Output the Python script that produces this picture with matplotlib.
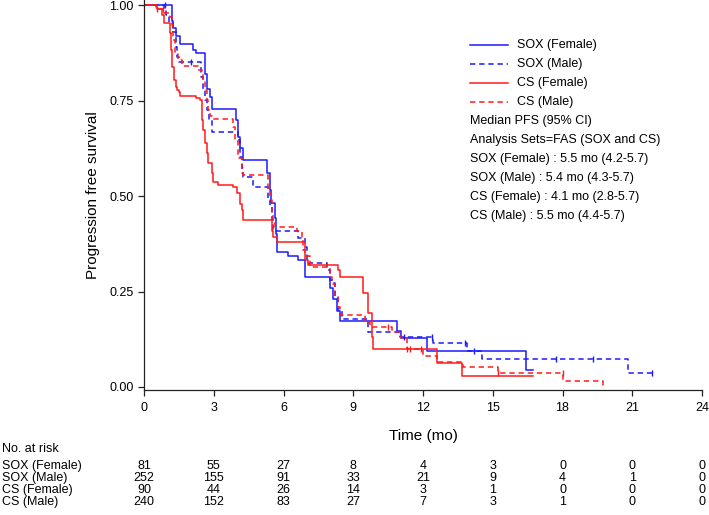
import matplotlib
matplotlib.use("Agg")
import matplotlib.pyplot as plt
import matplotlib.transforms as mtransforms
import numpy as np

plt.rcParams["font.family"] = ["Liberation Sans", "DejaVu Sans"]

# Kaplan-Meier steps: time (mo) and survival after each step
sox_f_t = [0, 1.19, 1.26, 1.36, 1.53, 2.12, 2.22, 2.62, 2.72, 2.85, 2.93, 3.96, 4.06, 4.13, 4.27,
           5.30, 5.40, 5.48, 5.63, 5.67, 5.71, 6.21, 6.64, 6.92, 8.00, 8.14, 8.29, 8.43, 10.87,
           11.05, 12.16, 16.42, 16.75]
sox_f_s = [1.0, 0.96, 0.94, 0.92, 0.899, 0.883, 0.875, 0.82, 0.78, 0.761, 0.728, 0.70, 0.656, 0.627, 0.595,
           0.56, 0.516, 0.482, 0.443, 0.40, 0.355, 0.343, 0.333, 0.289, 0.26, 0.23, 0.20, 0.173, 0.147,
           0.128, 0.093, 0.045, 0.045]

sox_m_t = [0, 0.86, 0.95, 1.08, 1.26, 1.36, 1.43, 1.50, 2.44, 2.55, 2.62, 2.72, 2.80, 2.91, 3.84,
           4.06, 4.13, 4.20, 4.27, 4.70, 5.35, 5.42, 5.49, 5.56, 6.64, 6.92, 7.00, 7.86, 8.00,
           8.07, 8.21, 8.36, 8.50, 9.65, 11.00, 12.44, 13.88, 14.52, 20.83, 21.84]
sox_m_s = [1.0, 0.99, 0.975, 0.954, 0.931, 0.89, 0.866, 0.851, 0.813, 0.778, 0.752, 0.726, 0.70, 0.668, 0.668,
           0.647, 0.604, 0.56, 0.551, 0.525, 0.49, 0.473, 0.438, 0.41, 0.39, 0.368, 0.324, 0.307, 0.28,
           0.273, 0.237, 0.202, 0.177, 0.145, 0.132, 0.115, 0.093, 0.072, 0.036, 0.036]

cs_f_t = [0, 0.55, 0.79, 0.86, 1.12, 1.15, 1.22, 1.29, 1.36, 1.43, 1.50, 1.55, 2.22, 2.41, 2.48,
          2.55, 2.62, 2.69, 2.77, 2.91, 2.98, 3.20, 3.84, 3.99, 4.13, 4.20, 4.27, 5.49, 5.56, 5.71,
          6.92, 7.07, 8.36, 8.43, 9.43, 9.65, 9.79, 9.86, 12.59, 13.66, 16.75]
cs_f_s = [1.0, 0.99, 0.975, 0.954, 0.927, 0.883, 0.84, 0.805, 0.787, 0.778, 0.774, 0.764, 0.757, 0.752, 0.70,
          0.674, 0.639, 0.613, 0.586, 0.56, 0.538, 0.529, 0.525, 0.508, 0.48, 0.464, 0.438, 0.41, 0.394, 0.379,
          0.333, 0.32, 0.307, 0.289, 0.246, 0.193, 0.132, 0.099, 0.064, 0.030, 0.030]

cs_m_t = [0, 0.50, 0.86, 1.12, 1.19, 1.26, 1.33, 1.48, 1.62, 2.34, 2.48, 2.55, 2.62, 2.70, 2.77,
          2.84, 2.91, 3.84, 3.92, 4.06, 4.20, 4.27, 5.35, 5.42, 5.49, 5.56, 5.63, 6.57, 6.78, 6.85,
          6.92, 7.14, 8.00, 8.07, 8.21, 8.36, 8.43, 9.50, 9.72, 10.65, 11.05, 11.30, 12.00, 12.59,
          13.73, 15.24, 18.04, 19.76]
cs_m_s = [1.0, 0.99, 0.98, 0.97, 0.949, 0.91, 0.875, 0.857, 0.841, 0.831, 0.826, 0.805, 0.778, 0.752, 0.726,
          0.709, 0.703, 0.682, 0.645, 0.60, 0.575, 0.556, 0.52, 0.49, 0.456, 0.429, 0.42, 0.41, 0.394, 0.359,
          0.343, 0.315, 0.287, 0.27, 0.24, 0.21, 0.189, 0.17, 0.158, 0.145, 0.128, 0.10, 0.081, 0.066,
          0.051, 0.036, 0.016, 0.0]

# censoring ticks (mo)
sox_f_cens = [0.9, 14.2]
sox_m_cens = [2.0, 11.2, 12.4, 13.8, 17.7, 19.3, 21.84]
cs_f_cens = [0.55, 11.3, 11.45]
cs_m_cens = [0.8, 10.5, 11.9, 15.24, 18.0]

groups = ["SOX (Female)", "SOX (Male)", "CS (Female)", "CS (Male)"]
medians = ["SOX (Female) : 5.5 mo (4.2-5.7)", "SOX (Male) : 5.4 mo (4.3-5.7)",
           "CS (Female) : 4.1 mo (2.8-5.7)", "CS (Male) : 5.5 mo (4.4-5.7)"]

# number at risk table
risk_times = [0, 3, 6, 9, 12, 15, 18, 21, 24]
sox_f_risk = [81, 55, 27, 8, 4, 3, 0, 0, 0]
sox_m_risk = [252, 155, 91, 33, 21, 9, 4, 1, 0]
cs_f_risk = [90, 44, 26, 14, 3, 1, 0, 0, 0]
cs_m_risk = [240, 152, 83, 27, 7, 3, 1, 0, 0]

blue = "#1a1aff"
red = "#ff1a1a"
dash = (0, (3.5, 2.5))
curves = [(sox_f_t, sox_f_s, sox_f_cens, blue, "-"), (sox_m_t, sox_m_s, sox_m_cens, blue, dash),
          (cs_f_t, cs_f_s, cs_f_cens, red, "-"), (cs_m_t, cs_m_s, cs_m_cens, red, dash)]

W, H = 709, 515
fig = plt.figure(figsize=(W / 100, H / 100), dpi=100)
ax = fig.add_axes([144 / W, (H - 390) / H, 558 / W, 390 / H])

for t, s, cens, c, ls in curves:
    ax.step(t, s, where="post", color=c, linestyle=ls, linewidth=1.1)
    idx = np.searchsorted(t, cens, side="right") - 1
    ax.plot(cens, np.array(s)[idx], linestyle="none", marker="|", markersize=5,
            markeredgewidth=1.0, color=c)

ax.set_xlim(0, 24)
ax.set_ylim(-0.008, 1.0144)
ax.set_xticks(risk_times)
ax.set_yticks([0, 0.25, 0.5, 0.75, 1.0])
ax.set_yticklabels(["0.00", "0.25", "0.50", "0.75", "1.00"])
for side in ["top", "right"]:
    ax.spines[side].set_visible(False)
for side in ["left", "bottom"]:
    ax.spines[side].set_linewidth(0.9)
    ax.spines[side].set_color("#222222")
ax.tick_params(labelsize=9, length=4, width=0.9, color="#222222")
ax.tick_params(axis="x", pad=4.5)

ax.set_ylabel("Progression free survival", fontsize=11)
ax.yaxis.set_label_coords(-0.078, 0.5)
fig.text(423 / W, 1 - 436 / H, "Time (mo)", fontsize=11, ha="center", va="center")

# legend drawn as lines + text in axes coordinates
lx0, lx1, tx = 0.584, 0.652, 0.668
ly0, dy = 0.885, 0.0487
for i, (t, s, cens, c, ls) in enumerate(curves):
    y = ly0 - i * dy
    ax.plot([lx0, lx1], [y, y], transform=ax.transAxes, color=c, linestyle=ls, linewidth=1.1)
    ax.text(tx, y, groups[i], transform=ax.transAxes, fontsize=9, va="center")
extra = ["Median PFS (95% CI)", "Analysis Sets=FAS (SOX and CS)"] + medians
for j, line in enumerate(extra):
    y = ly0 - (4 + j) * dy
    ax.text(lx0, y, line, transform=ax.transAxes, fontsize=9, va="center")

# number at risk
trans = mtransforms.blended_transform_factory(ax.transData, fig.transFigure)
fig.text(2 / W, 1 - 449 / H, "No. at risk", fontsize=9, va="center")
rows = [sox_f_risk, sox_m_risk, cs_f_risk, cs_m_risk]
row_y = [466, 478, 490, 502]
for name, vals, py in zip(groups, rows, row_y):
    fig.text(2 / W, 1 - py / H, name, fontsize=9, va="center")
    for t, v in zip(risk_times, vals):
        ax.text(t, 1 - py / H, str(v), transform=trans, fontsize=9, ha="center", va="center")

fig.savefig("out.png", dpi=100)
